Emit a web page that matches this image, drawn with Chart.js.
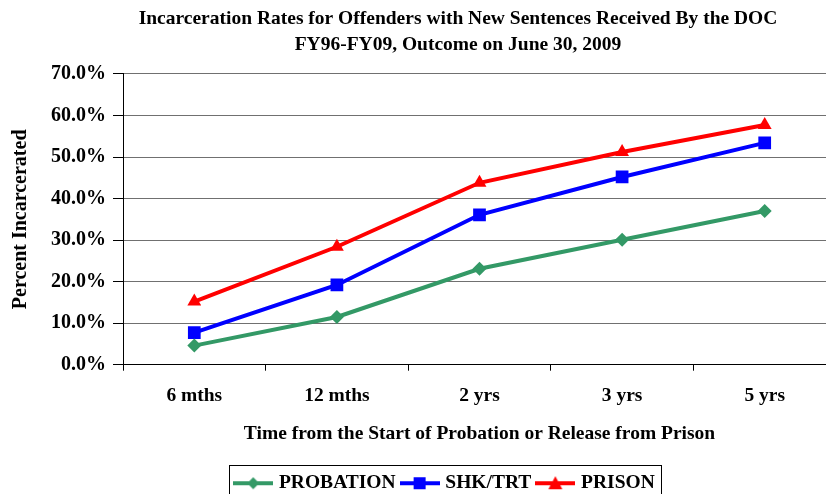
<!doctype html>
<html lang="en">
<head>
    <meta charset="utf-8">
    <title>Incarceration Rates</title>
    <style>
        * { margin: 0; padding: 0; }
        body { width: 826px; height: 494px; overflow: hidden; background: #fff; }
        .chartBox { width: 916px; height: 503px; }
    </style>
</head>
<body>
    <div class="chartBox">
        <canvas id="myChart" width="916" height="503"></canvas>
    </div>

    <script src="https://cdn.jsdelivr.net/npm/chart.js"></script>
    <script>
        const labels = ['6 mths', '12 mths', '2 yrs', '3 yrs', '5 yrs']
        const probation = [4.6, 11.5, 23.1, 30.1, 37.0]
        const shkTrt = [7.7, 19.2, 36.1, 45.2, 53.4]
        const prison = [15.2, 28.4, 43.8, 51.2, 57.7]
        const yTicks = [0, 10, 20, 30, 40, 50, 60, 70]

        const serif = 'Liberation Serif'
        const seriesNames = ['PROBATION', 'SHK/TRT', 'PRISON']
        const seriesData = [probation, shkTrt, prison]
        const colors = ['#339966', '#0000FF', '#FF0000']
        const markers = ['rectRot', 'rect', 'triangle']
        const radii = [7, 9, 8]

        // small canvas with line + marker, used as legend symbol
        function legendSymbol(color, style) {
            const c = document.createElement('canvas')
            c.width = 40
            c.height = 16
            const ctx = c.getContext('2d')
            ctx.strokeStyle = color
            ctx.fillStyle = color
            ctx.lineWidth = 4
            ctx.beginPath()
            ctx.moveTo(0, 8)
            ctx.lineTo(40, 8)
            ctx.stroke()
            ctx.beginPath()
            if (style === 'rectRot') {
                ctx.moveTo(20, 2); ctx.lineTo(26, 8); ctx.lineTo(20, 14); ctx.lineTo(14, 8)
            } else if (style === 'rect') {
                ctx.rect(14, 2, 12, 12)
            } else {
                ctx.moveTo(20, 1); ctx.lineTo(27, 14); ctx.lineTo(13, 14)
            }
            ctx.closePath()
            ctx.fill()
            return c
        }

        const dataSets = seriesNames.map((name, i) => {
            return {
                label: name,
                data: seriesData[i],
                borderColor: colors[i],
                backgroundColor: colors[i],
                borderWidth: 4,
                pointStyle: markers[i],
                pointRadius: radii[i],
                pointHoverRadius: radii[i],
                pointBorderWidth: 0,
                tension: 0,
                yAxisID: 'y'
            }
        })

        // move the legend a bit left and frame it
        const legendBorder = {
            id: 'legendBorder',
            afterLayout(chart) {
                chart.legend.left -= 12
                chart.legend.right -= 12
            },
            afterDraw(chart) {
                const boxes = chart.legend.legendHitBoxes
                if (!boxes || !boxes.length) return
                const first = boxes[0]
                const last = boxes[boxes.length - 1]
                const ctx = chart.ctx
                ctx.save()
                ctx.strokeStyle = '#000'
                ctx.lineWidth = 1
                const x0 = Math.round(first.left - 8) + 0.5
                const x1 = Math.round(last.left + last.width + 6) + 0.5
                const y0 = Math.round(first.top - 8) + 0.5
                ctx.strokeRect(x0, y0, x1 - x0, 60)
                ctx.restore()
            }
        }

        const config = {
            type: 'line',
            data: {
                labels: labels,
                datasets: dataSets
            },
            options: {
                responsive: false,
                animation: false,
                layout: {
                    padding: { left: 4, right: 4, top: 0, bottom: 0 }
                },
                plugins: {
                    tooltip: { enabled: false },
                    title: {
                        display: true,
                        text: ['Incarceration Rates for Offenders with New Sentences Received By the DOC',
                               'FY96-FY09, Outcome on June 30, 2009'],
                        color: '#000',
                        font: { family: serif, size: 19.5, weight: 'bold', lineHeight: 1.333 },
                        padding: { top: 6, bottom: 16 }
                    },
                    legend: {
                        position: 'bottom',
                        labels: {
                            color: '#000',
                            font: { family: serif, size: 19.5, weight: 'bold' },
                            usePointStyle: true,
                            pointStyleWidth: 32,
                            padding: 8,
                            generateLabels(chart) {
                                return chart.data.datasets.map((ds, i) => ({
                                    text: ds.label,
                                    fontColor: '#000',
                                    pointStyle: legendSymbol(colors[i], markers[i]),
                                    datasetIndex: i,
                                    hidden: false,
                                    lineWidth: 0
                                }))
                            }
                        }
                    }
                },
                scales: {
                    x: {
                        offset: true,
                        grid: {
                            offset: true,
                            drawOnChartArea: false,
                            drawTicks: true,
                            tickLength: 6,
                            color: '#000'
                        },
                        border: { color: '#000', width: 1 },
                        ticks: {
                            color: '#000',
                            font: { family: serif, size: 19.5, weight: 'bold' },
                            padding: 14
                        },
                        title: {
                            display: true,
                            text: 'Time from the Start of Probation or Release from Prison',
                            color: '#000',
                            font: { family: serif, size: 19.5, weight: 'bold' },
                            padding: { top: 0, bottom: 20 }
                        }
                    },
                    y: {
                        min: 0,
                        max: 70,
                        afterBuildTicks(axis) {
                            axis.ticks = yTicks.map(v => ({ value: v }))
                        },
                        grid: {
                            color: '#707070',
                            tickColor: '#000',
                            tickLength: 10
                        },
                        border: { color: '#000', width: 1 },
                        ticks: {
                            color: '#000',
                            font: { family: serif, size: 20, weight: 'bold' },
                            padding: 7,
                            callback: function(value) {
                                return value.toFixed(1) + '%'
                            }
                        },
                        title: {
                            display: true,
                            text: 'Percent Incarcerated',
                            color: '#000',
                            font: { family: serif, size: 20, weight: 'bold' },
                            padding: { top: 5, bottom: 11 }
                        }
                    },
                    // empty spacer on the right, the plot runs past the picture edge
                    spacer: {
                        position: 'right',
                        display: true,
                        grid: { display: false },
                        border: { display: false },
                        ticks: { display: false },
                        afterFit(axis) {
                            axis.width = 76
                        }
                    }
                }
            },
            plugins: [legendBorder]
        }

        const myChart = new Chart(document.getElementById('myChart'), config)
    </script>
</body>
</html>
